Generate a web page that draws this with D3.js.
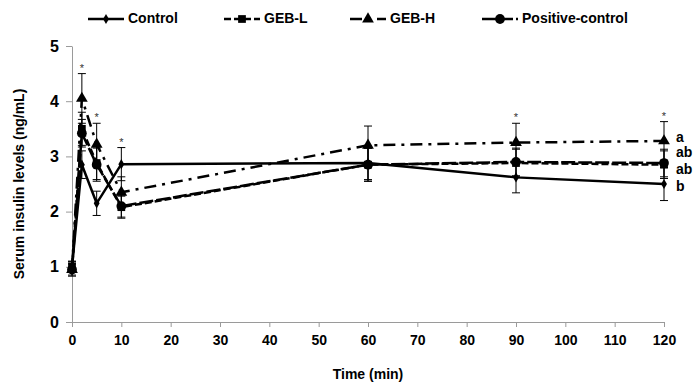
<!DOCTYPE html>
<html>
<head>
<meta charset="utf-8">
<script src="https://cdn.jsdelivr.net/npm/d3@7"></script>
<style>
  body { margin: 0; background: #fff; }
  text { font-family: "Liberation Sans", Arial, sans-serif; font-weight: bold; }
</style>
</head>
<body>
<div class="chart-container"></div>
<script>
// data
const times = [0, 2, 5, 10, 60, 90, 120];
const seriesNames = ['Control', 'GEB-L', 'GEB-H', 'Positive-control'];
const controlVals = [1.0, 2.85, 2.15, 2.86, 2.88, 2.62, 2.5];
const controlErr = [0.1, 0.25, 0.22, 0.3, 0.3, 0.28, 0.3];
const gebLVals = [1.0, 3.5, 2.88, 2.08, 2.85, 2.88, 2.85];
const gebLErr = [0.1, 0.3, 0.3, 0.2, 0.3, 0.25, 0.25];
const gebHVals = [0.95, 4.05, 3.22, 2.35, 3.2, 3.25, 3.28];
const gebHErr = [0.12, 0.45, 0.38, 0.28, 0.35, 0.35, 0.35];
const posVals = [0.95, 3.42, 2.85, 2.1, 2.85, 2.9, 2.88];
const posErr = [0.1, 0.25, 0.3, 0.2, 0.3, 0.25, 0.25];
const starTimes = [2, 5, 10, 90, 120];
const letterLabels = ['a', 'ab', 'ab', 'b'];
const letterVals = [3.33, 3.05, 2.74, 2.44];
const xTicks = d3.range(0, 121, 10);
const yTicks = [0, 1, 2, 3, 4, 5];

const W = 695, H = 387;
const svg = d3.select('.chart-container')
    .append('svg')
    .attr('width', W)
    .attr('height', H);

const x = d3.scaleLinear().domain([0, 120]).range([72, 664]);
const y = d3.scaleLinear().domain([0, 5]).range([322, 46]);

// axes
const xAxis = svg.append('g')
    .attr('transform', `translate(0,${y(0)})`)
    .call(d3.axisBottom(x).tickValues(xTicks).tickSize(5).tickSizeOuter(0).tickPadding(8));
const yAxis = svg.append('g')
    .attr('transform', `translate(${x(0)},0)`)
    .call(d3.axisLeft(y).tickValues(yTicks).tickFormat(d3.format('d')).tickSize(6).tickSizeOuter(0).tickPadding(7));
[xAxis, yAxis].forEach(a => {
    a.selectAll('path, line').attr('stroke', '#9a9a9a');
    a.selectAll('text').attr('fill', '#000').style('font-size', '14px');
});
yAxis.selectAll('text').style('font-size', '16px');

svg.append('text')
    .attr('x', 368).attr('y', 379)
    .attr('text-anchor', 'middle')
    .style('font-size', '14px')
    .text('Time (min)');
svg.append('text')
    .attr('transform', 'translate(24,184) rotate(-90)')
    .attr('text-anchor', 'middle')
    .style('font-size', '14px')
    .text('Serum insulin levels (ng/mL)');

const series = [
    { name: seriesNames[0], vals: controlVals, err: controlErr, dash: null, sym: d3.symbolDiamond, size: 30 },
    { name: seriesNames[1], vals: gebLVals, err: gebLErr, dash: '7,3', sym: d3.symbolSquare, size: 60 },
    { name: seriesNames[2], vals: gebHVals, err: gebHErr, dash: '12,6,3,6', sym: d3.symbolTriangle, size: 60 },
    { name: seriesNames[3], vals: posVals, err: posErr, dash: '14,3', sym: d3.symbolCircle, size: 75 }
];

const line = d3.line().x(d => x(d[0])).y(d => y(d[1]));

// error bars
series.forEach(s => {
    const g = svg.append('g');
    times.forEach((t, i) => {
        const cx = x(t), lo = y(s.vals[i] - s.err[i]), hi = y(s.vals[i] + s.err[i]);
        g.append('line').attr('x1', cx).attr('x2', cx).attr('y1', lo).attr('y2', hi)
            .attr('stroke', '#000').attr('stroke-width', 1);
        [lo, hi].forEach(yy => g.append('line')
            .attr('x1', cx - 4).attr('x2', cx + 4).attr('y1', yy).attr('y2', yy)
            .attr('stroke', '#000').attr('stroke-width', 1));
    });
});

// lines and markers
series.forEach(s => {
    const pts = times.map((t, i) => [t, s.vals[i]]);
    svg.append('path')
        .datum(pts)
        .attr('d', line)
        .attr('fill', 'none')
        .attr('stroke', '#000')
        .attr('stroke-width', 2.5)
        .attr('stroke-dasharray', s.dash);
    svg.append('g').selectAll('path')
        .data(pts)
        .enter()
        .append('path')
        .attr('transform', d => `translate(${x(d[0])},${y(d[1])})`)
        .attr('d', d3.symbol().type(s.sym).size(s.size))
        .attr('fill', '#000');
});

// significance stars above the highest error bar
svg.append('g').selectAll('text')
    .data(starTimes)
    .enter()
    .append('text')
    .attr('x', d => x(d))
    .attr('y', d => {
        const i = times.indexOf(d);
        const top = d3.max(series, s => s.vals[i] + s.err[i]);
        return y(top) - 2;
    })
    .attr('text-anchor', 'middle')
    .attr('fill', '#333')
    .style('font-size', '11px')
    .style('font-weight', 'normal')
    .text('*');

// letters at the right
svg.append('g').selectAll('text')
    .data(letterLabels)
    .enter()
    .append('text')
    .attr('x', 676)
    .attr('y', (d, i) => y(letterVals[i]))
    .attr('dominant-baseline', 'middle')
    .style('font-size', '14px')
    .text(d => d);

// legend
const legX = [88, 224, 350, 482];
const leg = svg.append('g');
series.forEach((s, i) => {
    const lx = legX[i];
    leg.append('line')
        .attr('x1', lx).attr('x2', lx + 36).attr('y1', 19).attr('y2', 19)
        .attr('stroke', '#000').attr('stroke-width', 2.5)
        .attr('stroke-dasharray', s.dash);
    leg.append('path')
        .attr('transform', `translate(${lx + 18},19)`)
        .attr('d', d3.symbol().type(s.sym).size(s.size))
        .attr('fill', '#000');
    leg.append('text')
        .attr('x', lx + 40).attr('y', 19)
        .attr('dominant-baseline', 'middle')
        .style('font-size', '14px')
        .text(s.name);
});
</script>
</body>
</html>
